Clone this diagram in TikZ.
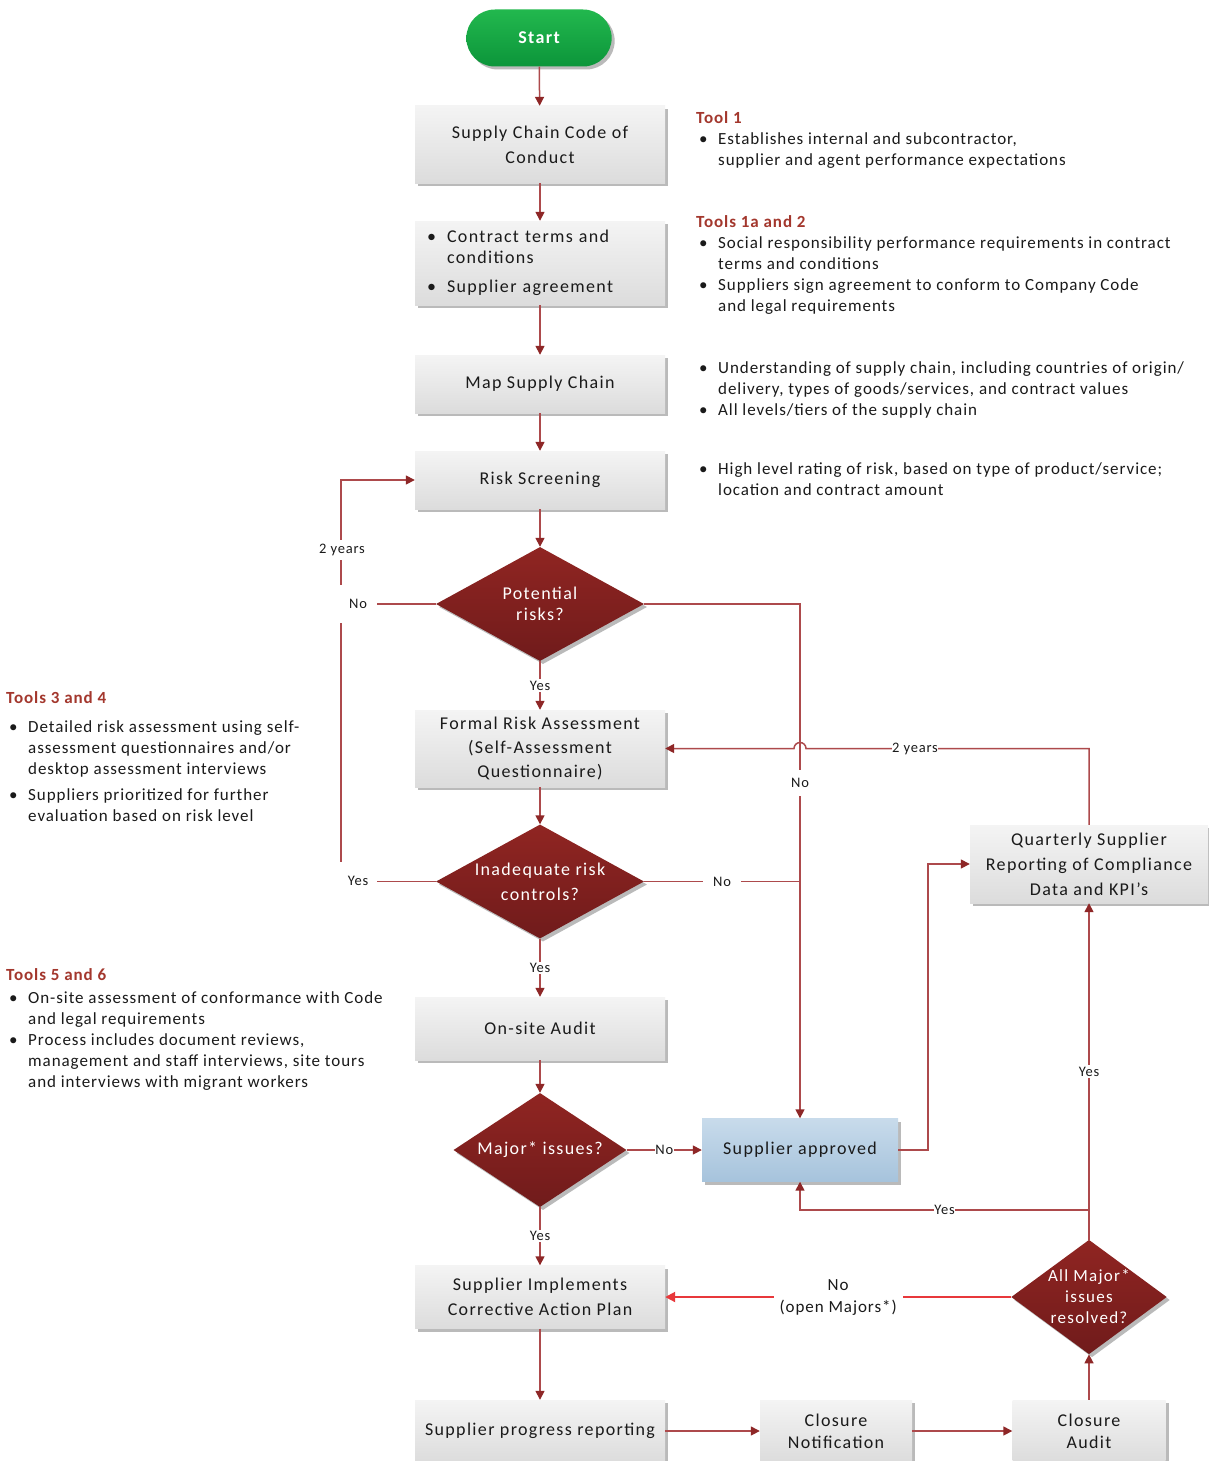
\documentclass[tikz,border=0pt]{standalone}
\usepackage{fontspec}
\setmainfont{Carlito}
\newfontfamily\sidefam[LetterSpace=5.5]{Carlito}
\newfontfamily\boxfam[LetterSpace=7.5]{Carlito}
\usetikzlibrary{shapes.geometric,shapes.misc,arrows.meta,shadows}
\definecolor{lnc}{HTML}{AD4A4C}
\definecolor{tipc}{HTML}{8E2727}
\definecolor{boxtop}{HTML}{F4F4F4}
\definecolor{boxbot}{HTML}{DCDCDC}
\definecolor{dtop}{HTML}{902522}
\definecolor{dbot}{HTML}{701B1B}
\definecolor{gtop}{HTML}{22B84E}
\definecolor{gbot}{HTML}{0C953A}
\definecolor{btop}{HTML}{C8DBEB}
\definecolor{bbot}{HTML}{A6C3DC}
\definecolor{headc}{HTML}{A3372D}
\definecolor{txt}{HTML}{1A1A1A}
\definecolor{brred}{HTML}{E8383B}
\newcommand\boxfont{\boxfam\fontsize{18}{25}\selectfont}
\newcommand\sidefont{\sidefam\fontsize{17}{21}\selectfont}
\newcommand\labfont{\sidefam\fontsize{14.5}{17}\selectfont}
\newcommand\hd[1]{\textcolor{headc}{\bfseries #1}}
\newcommand\bu{\makebox[22pt][l]{\hspace{3pt}\textbullet}}
\newcommand\ind{\hspace*{22pt}}
\tikzset{
  shad/.style={drop shadow={shadow xshift=3pt,shadow yshift=-3pt,fill=black!45,opacity=0.6}},
  proc/.style={rectangle, top color=boxtop, bottom color=boxbot, minimum width=250, text=txt,
     font=\boxfont, align=center, inner sep=2pt, shad},
  apprv/.style={proc, top color=btop, bottom color=bbot},
  startnode/.style={rounded rectangle, top color=gtop, bottom color=gbot, minimum width=152,
     minimum height=57, text=white, font=\boxfont\bfseries, shad},
  dec/.style={diamond, top color=dtop, bottom color=dbot, text=white, font=\boxfont,
     align=center, inner sep=0pt, shad},
  line/.style={draw=lnc, line width=1.5pt},
  conn/.style={line, -{Triangle[length=9pt,width=9pt,color=tipc]}},
  redconn/.style={draw=brred, line width=2pt, -{Triangle[length=10pt,width=10pt]}},
  lab/.style={fill=white, inner sep=1.5pt, font=\labfont, text=txt},
  side/.style={anchor=base west, inner sep=0pt, align=left, font=\sidefont, text=txt},
}
\begin{document}
\begin{tikzpicture}[x=1pt,y=1pt]
\useasboundingbox[fill=white] (0,0) rectangle (1208,-1461);
% nodes
\node[startnode] (start) at (539,-38) {Start};
\node[proc, minimum height=77] (scc) at (540,-144.5) {Supply Chain Code of\\Conduct};
\node[proc, minimum height=84, text width=226, align=left, font=\boxfam\fontsize{18}{21}\selectfont] (ctc) at (540,-263)
  {\makebox[20pt][l]{\textbullet}Contract terms and\\\hspace*{20pt}conditions\\[8pt]\makebox[20pt][l]{\textbullet}Supplier agreement};
\node[proc, minimum height=58] (map) at (540,-384) {Map Supply Chain};
\node[proc, minimum height=58] (rs) at (540,-480) {Risk Screening};
\node[dec, aspect=1.82, minimum width=208, minimum height=114, font=\boxfam\fontsize{18}{21}\selectfont] (d1) at (540,-604) {Potential\\risks?};
\node[proc, minimum height=77, font=\boxfam\fontsize{18}{24}\selectfont] (fra) at (540,-748.5) {Formal Risk Assessment\\(Self-Assessment\\Questionnaire)};
\node[dec, aspect=1.82, minimum width=208, minimum height=114] (d2) at (540,-881.5) {Inadequate risk\\controls?};
\node[proc, minimum height=63] (osa) at (540,-1028.5) {On-site Audit};
\node[dec, aspect=1.52, minimum width=173, minimum height=114] (d3) at (540,-1150) {Major* issues?};
\node[apprv, minimum width=196, minimum height=63] (sa) at (800,-1150) {Supplier approved};
\node[proc, minimum width=238, minimum height=78] (qsr) at (1089,-864) {Quarterly Supplier\\Reporting of Compliance\\Data and KPI’s};
\node[proc, minimum height=63] (cap) at (540,-1297) {Supplier Implements\\Corrective Action Plan};
\node[proc, minimum height=62] (spr) at (540,-1431) {Supplier progress reporting};
\node[proc, minimum width=152, minimum height=62, font=\boxfam\fontsize{18}{22}\selectfont] (cn) at (836,-1431) {Closure\\Notification};
\node[proc, minimum width=153, minimum height=62, font=\boxfam\fontsize{18}{22}\selectfont] (ca) at (1089,-1431) {Closure\\Audit};
\node[dec, aspect=1.36, minimum width=154, minimum height=113, font=\boxfam\fontsize{17}{21}\selectfont] (d4) at (1089,-1297) {All Major*\\issues\\resolved?};
% helper coordinates
\coordinate (lx) at (341,0);
\coordinate (kx) at (928,0);
\coordinate (j1) at (1089,-1210);
\coordinate (hop) at (806,-748.5);
% main column
\draw[conn] (start) -- (scc);
\draw[conn] (scc) -- (ctc);
\draw[conn] (ctc) -- (map);
\draw[conn] (map) -- (rs);
\draw[conn] (rs) -- (d1);
\draw[conn] (d1) -- node[lab]{Yes} (fra);
\draw[conn] (fra) -- (d2);
\draw[conn] (d2) -- node[lab]{Yes} (osa);
\draw[conn] (osa) -- (d3);
\draw[conn] (d3) -- node[lab]{Yes} (cap);
\draw[conn] (d3) -- node[lab, inner sep=0.5pt]{No} (sa);
\draw[conn] (cap) -- (spr);
\draw[conn] (spr) -- (cn);
\draw[conn] (cn) -- (ca);
\draw[conn] (ca) -- (d4);
% left loop
\draw[line] (d1.west) -- (d1.west -| lx);
\draw[conn] (d2.west) -- (d2.west -| lx) -- (lx |- rs.west) -- (rs.west);
\node[lab, minimum width=38, minimum height=38] at (358,-604) {No};
\node[lab, minimum width=38, minimum height=38] at (358,-881) {Yes};
\node[lab, inner ysep=4pt] at (342,-550) {2 years};
% right branch to supplier approved
\draw[conn] (d1.east) -- (d1.east -| sa.north) -- (sa.north);
\draw[line] (d2.east) -- node[lab, minimum width=38]{No} (d2.east -| sa.north);
\node[lab, minimum height=26] at (800,-783) {No};
% supplier approved to quarterly
\draw[conn] (sa.east) -- (sa.east -| kx) -- (kx |- qsr.west) -- (qsr.west);
% quarterly back to formal risk assessment
\draw[conn] (qsr.north) -- (qsr.north |- fra.east) -- (hop) arc[start angle=0, end angle=180, radius=6] -- (fra.east);
\node[lab, inner sep=0.5pt] at (915,-748.5) {2 years};
% all major resolved
\draw[conn] (d4) -- node[lab]{Yes} (qsr);
\draw[conn] (j1) -- node[lab, inner sep=0.5pt]{Yes} (j1 -| sa.south) -- (sa.south);
\draw[redconn] (d4) -- node[lab, align=center, inner xsep=6pt, font=\sidefam\fontsize{17}{22}\selectfont]{No\\(open Majors*)} (cap);
% side texts
\node[side] (t1) at (696,-165) {\hd{Tool 1}\\ \bu Establishes internal and subcontractor,\\ \ind supplier and agent performance expectations};
\node[side] (t2) at (696,-311) {\hd{Tools 1a and 2}\\ \bu Social responsibility performance requirements in contract\\ \ind terms and conditions\\ \bu Suppliers sign agreement to conform to Company Code\\ \ind and legal requirements};
\node[side] (t3) at (696,-415) {\bu Understanding of supply chain, including countries of origin/\\ \ind delivery, types of goods/services, and contract values\\ \bu All levels/tiers of the supply chain};
\node[side] (t4) at (696,-495) {\bu High level rating of risk, based on type of product/service;\\ \ind location and contract amount};
\node[side] (t5) at (6,-821) {\hd{Tools 3 and 4}\\[8pt] \bu Detailed risk assessment using self-\\ \ind assessment questionnaires and/or\\ \ind desktop assessment interviews\\[5pt] \bu Suppliers prioritized for further\\ \ind evaluation based on risk level};
\node[side] (t6) at (6,-1087) {\hd{Tools 5 and 6}\\[2pt] \bu On-site assessment of conformance with Code\\ \ind and legal requirements\\ \bu Process includes document reviews,\\ \ind management and staff interviews, site tours\\ \ind and interviews with migrant workers};
\end{tikzpicture}
\end{document}
